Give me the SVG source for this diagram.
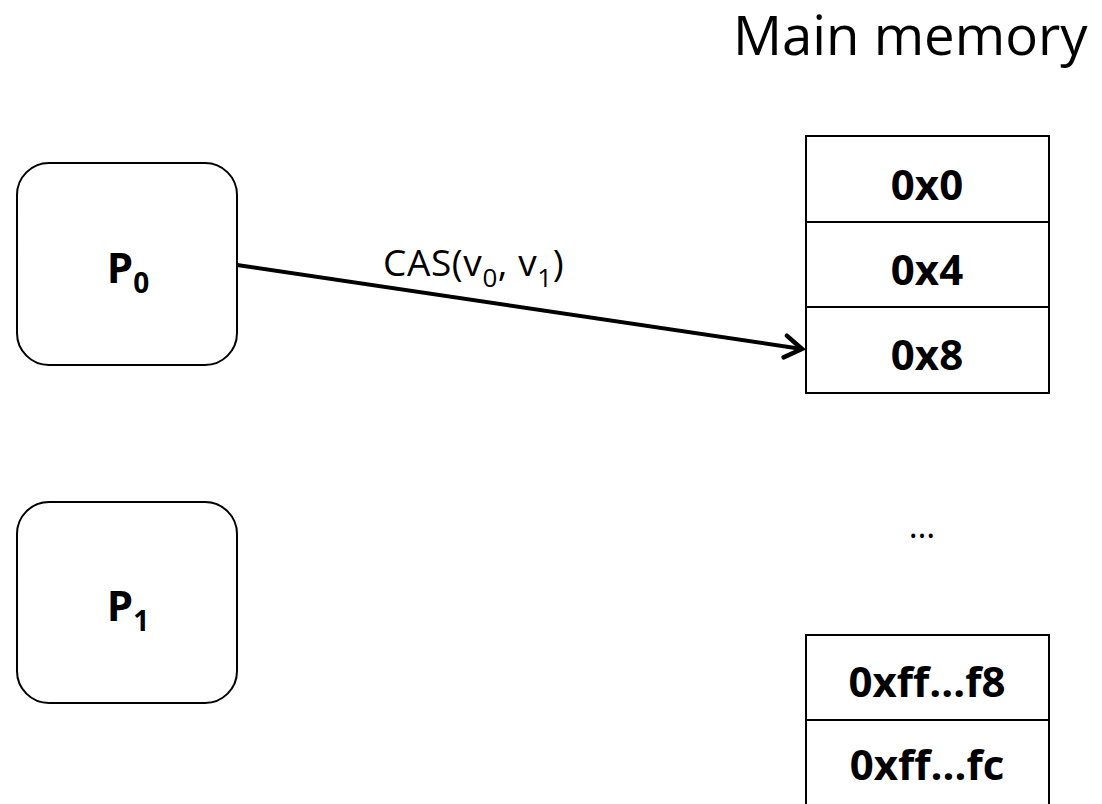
<svg xmlns="http://www.w3.org/2000/svg" width="1102" height="804" viewBox="0 0 1102 804">
  <style>
    .proc { fill: #fff; stroke: #000; stroke-width: 2; }
    .cell { fill: #fff; stroke: #000; stroke-width: 2; }
    .lbl { font-family: "Open Sans", "Liberation Sans", sans-serif; font-weight: bold; font-size: 42px; text-anchor: middle; fill: #000; }
    .plain { font-family: "Open Sans", "Liberation Sans", sans-serif; fill: #000; }
    .edge { stroke: #000; stroke-width: 4; fill: none; }
  </style>
  <defs>
    <marker id="arrow" viewBox="0 0 24 28" refX="20" refY="14" markerWidth="6" markerHeight="7" orient="auto" markerUnits="strokeWidth">
      <path d="M3,3 L20,14 L3,25" fill="none" stroke="#000" stroke-width="4.5" stroke-linecap="round" stroke-linejoin="miter"/>
    </marker>
  </defs>
  <rect width="1102" height="804" fill="#fff"/>

  <text x="733" y="55" class="plain" font-size="54.5">Main memory</text>

  <g id="p0">
    <rect class="proc" x="17" y="163" width="220" height="202" rx="32" ry="32"/>
    <text x="128" y="283" class="lbl">P<tspan font-size="28" dy="10">0</tspan></text>
  </g>

  <g id="p1">
    <rect class="proc" x="17" y="502" width="220" height="201" rx="32" ry="32"/>
    <text x="128" y="621" class="lbl">P<tspan font-size="28" dy="10">1</tspan></text>
  </g>

  <g id="mem-0x0">
    <rect class="cell" x="806" y="136" width="243" height="86"/>
    <text x="927" y="200" class="lbl">0x0</text>
  </g>
  <g id="mem-0x4">
    <rect class="cell" x="806" y="222" width="243" height="85"/>
    <text x="927" y="285" class="lbl">0x4</text>
  </g>
  <g id="mem-0x8">
    <rect class="cell" x="806" y="307" width="243" height="86"/>
    <text x="927" y="370" class="lbl">0x8</text>
  </g>

  <text id="gap" x="922" y="538" class="plain" font-size="34" text-anchor="middle">…</text>

  <g id="mem-0xff-f8">
    <rect class="cell" x="806" y="635" width="243" height="85"/>
    <text x="927" y="697" class="lbl">0xff…f8</text>
  </g>
  <g id="mem-0xff-fc">
    <rect class="cell" x="806" y="720" width="243" height="90"/>
    <text x="927" y="780" class="lbl">0xff…fc</text>
  </g>

  <g id="connectors">
    <line class="edge" x1="237" y1="265" x2="802" y2="349" marker-end="url(#arrow)"/>
    <text x="383" y="276" class="plain" font-size="37" letter-spacing="0.6">CAS(v<tspan font-size="26" dy="11">0</tspan><tspan dy="-11">, v</tspan><tspan font-size="26" dy="11">1</tspan><tspan dy="-11">)</tspan></text>
  </g>
</svg>
